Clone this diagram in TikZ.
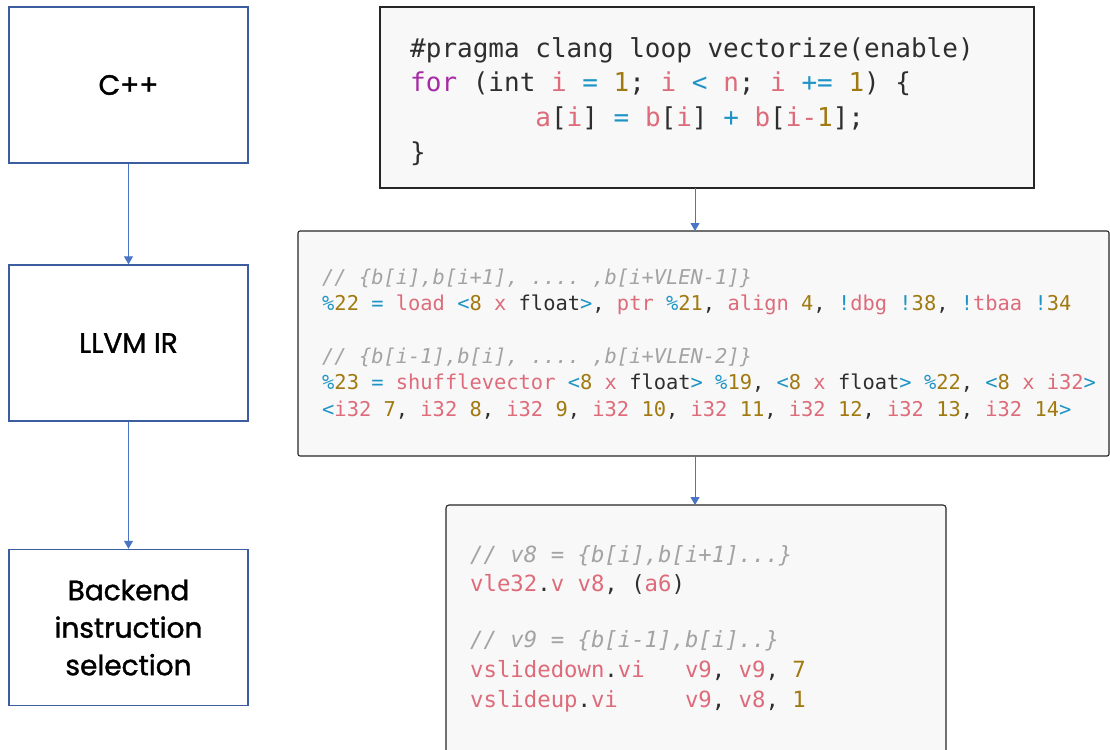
\documentclass[tikz,border=0pt]{standalone}
\usepackage{fontspec}
\setmainfont{Poppins}
\newfontfamily\lfont{Poppins}[FakeBold=1.3]
\setmonofont{DejaVu Sans Mono}
\usetikzlibrary{arrows.meta}
\definecolor{cred}{HTML}{DE6B7A}
\definecolor{cblue}{HTML}{1E94C6}
\definecolor{cgold}{HTML}{A07A10}
\definecolor{cpurple}{HTML}{A62CA4}
\definecolor{cgray}{HTML}{A3A3A3}
\definecolor{ctext}{HTML}{2E2E2E}
\definecolor{lborder}{HTML}{3D5E9E}
\definecolor{larrow}{HTML}{4A74C4}
\definecolor{codebg}{HTML}{F8F8F8}
\newcommand\tR[1]{\textcolor{cred}{#1}}
\newcommand\tB[1]{\textcolor{cblue}{#1}}
\newcommand\tN[1]{\textcolor{cgold}{#1}}
\newcommand\tP[1]{\textcolor{cpurple}{#1}}
\newcommand\tC[1]{\textcolor{cgray}{\itshape #1}}
\tikzset{
  lbox/.style={draw=lborder, line width=1.4pt, fill=white, minimum width=239pt, minimum height=156pt, inner sep=0pt, align=center, font=\lfont\fontsize{28}{37.5}\selectfont, text=black},
  codebox/.style={draw=black!85, line width=1.1pt, fill=codebg, inner sep=0pt},
  flow/.style={draw=larrow, line width=1pt, -{Triangle[width=9pt,length=8pt]}},
  codeA/.style={anchor=base west, inner sep=0pt, text=ctext, font=\ttfamily\fontsize{26}{30}\selectfont},
  codeB/.style={anchor=base west, inner sep=0pt, text=ctext, font=\ttfamily\fontsize{20.4}{24}\selectfont},
  codeC/.style={anchor=base west, inner sep=0pt, text=ctext, font=\ttfamily\fontsize{22.3}{26}\selectfont},
}
\begin{document}
\begin{tikzpicture}[x=1pt,y=-1pt]
\clip (0,0) rectangle (1110,749);
\fill[white] (0,0) rectangle (1110,749);
% left flow
\node[lbox] (cpp) at (128.5,85) {C++};
\node[lbox] (ir) at (128.5,343) {LLVM IR};
\node[lbox] (be) at (128.5,627.5) {Backend\\instruction\\selection};
\draw[flow] (cpp.south) -- (ir.north);
\draw[flow] (ir.south) -- (be.north);
% code boxes
\node[codebox, minimum width=654pt, minimum height=181pt] (src) at (707,97.5) {};
\node[codebox, rounded corners=2pt, minimum width=811pt, minimum height=225pt] (llvm) at (703.5,343.5) {};
\node[codebox, rounded corners=3pt, minimum width=500pt, minimum height=260pt] (asm) at (696,635) {};
\draw[flow] (695,188) coordinate (s1) -- (695,231) coordinate (s2);
\draw[flow] (695,456) coordinate (s3) -- (695,505) coordinate (s4);
% source code
\node[codeA] (a1) at (410,58) {\#pragma clang loop vectorize(enable)};
\node[codeA] (a2) at (410,92) {\tP{for} (int \tR{i} \tB{=} \tN{1}; \tR{i} \tB{<} \tR{n}; \tR{i} \tB{+=} \tN{1}) \{};
\node[codeA] (a3) at (410,127) {\hphantom{00000000}\tR{a}[\tR{i}] \tB{=} \tR{b}[\tR{i}] \tB{+} \tR{b}[\tR{i-}\tN{1}];};
\node[codeA] (a4) at (410,161) {\}};
% llvm ir
\node[codeB] (b1) at (322,284) {\tC{// \{b[i],b[i+1], .... ,b[i+VLEN-1]\}}};
\node[codeB] (b2) at (322,310) {\tB{\%}\tN{22} \tB{=} \tR{load} \tB{<}\tN{8} \tR{x} float\tB{>}, \tR{ptr} \tB{\%}\tN{21}, \tR{align} \tN{4}, \tB{!}\tR{dbg} \tB{!}\tN{38}, \tB{!}\tR{tbaa} \tB{!}\tN{34}};
\node[codeB] (b3) at (322,363) {\tC{// \{b[i-1],b[i], .... ,b[i+VLEN-2]\}}};
\node[codeB] (b4) at (322,389) {\tB{\%}\tN{23} \tB{=} \tR{shufflevector} \tB{<}\tN{8} \tR{x} float\tB{>} \tB{\%}\tN{19}, \tB{<}\tN{8} \tR{x} float\tB{>} \tB{\%}\tN{22}, \tB{<}\tN{8} \tR{x} \tR{i32}\tB{>}};
\node[codeB] (b5) at (322,416) {\tB{<}\tR{i32} \tN{7}, \tR{i32} \tN{8}, \tR{i32} \tN{9}, \tR{i32} \tN{10}, \tR{i32} \tN{11}, \tR{i32} \tN{12}, \tR{i32} \tN{13}, \tR{i32} \tN{14}\tB{>}};
% backend asm
\node[codeC] (c1) at (470,562) {\tC{// v8 = \{b[i],b[i+1]...\}}};
\node[codeC] (c2) at (470,591) {\tR{vle32}.\tR{v} \tR{v8}, (\tR{a6})};
\node[codeC] (c3) at (470,647) {\tC{// v9 = \{b[i-1],b[i]..\}}};
\node[codeC] (c4) at (470,677) {\tR{vslidedown}.\tR{vi}\ \ \ \tR{v9}, \tR{v9}, \tN{7}};
\node[codeC] (c5) at (470,707) {\tR{vslideup}.\tR{vi}\ \ \ \ \ \tR{v9}, \tR{v8}, \tN{1}};
\end{tikzpicture}
\end{document}
